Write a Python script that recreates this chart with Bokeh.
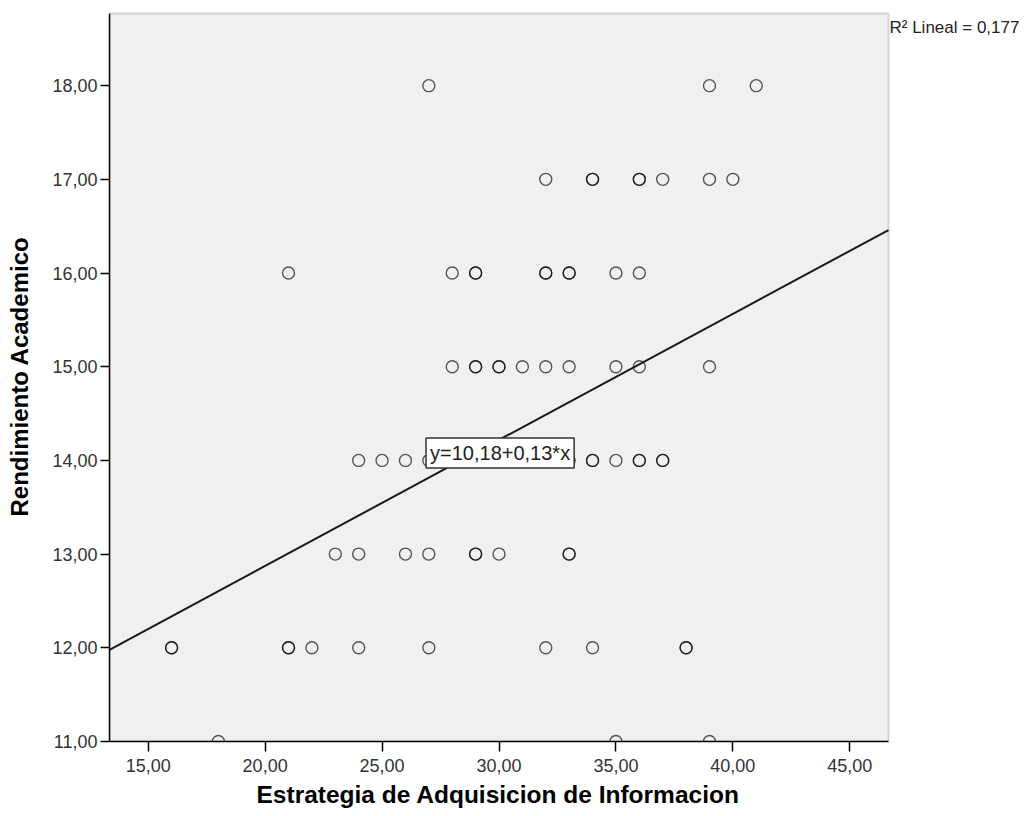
from bokeh.plotting import figure
from bokeh.models import (Range1d, FixedTicker, CustomJSTickFormatter, Label,
                          ColumnDataSource, BoxAnnotation, Title)
from bokeh.embed import file_html
from bokeh.resources import INLINE

# ---- data (duplicates = darker circles) ----
estrategia = [
    27, 39, 41,                                   # y = 18
    32, 34, 34, 36, 36, 37, 39, 40,               # y = 17
    21, 28, 29, 29, 32, 32, 33, 33, 35, 36,       # y = 16
    28, 29, 29, 30, 30, 31, 32, 33, 35, 36, 39,   # y = 15
    24, 25, 26, 27, 33, 34, 34, 35, 36, 36, 37, 37,  # y = 14
    23, 24, 26, 27, 29, 29, 30, 33, 33,           # y = 13
    16, 16, 21, 21, 22, 24, 27, 32, 34, 38, 38,   # y = 12
    18, 35, 39,                                   # y = 11
]
rendimiento = (
    [18] * 3 + [17] * 8 + [16] * 10 + [15] * 11 +
    [14] * 12 + [13] * 9 + [12] * 11 + [11] * 3
)

intercept = 10.184
slope = 0.1345
eq_text = "y=10,18+0,13*x"
r2_text = "R\u00b2 Lineal = 0,177"

x_ticks = [15, 20, 25, 30, 35, 40, 45]
y_ticks = [11, 12, 13, 14, 15, 16, 17, 18]
x_title = "Estrategia de Adquisicion de Informacion"
y_title = "Rendimiento Academico"

x_min, x_max = 13.345, 46.655
y_min, y_max = 11.0, 18.77

FONT = "Liberation Sans"

# frame extended to the right so the R² note (outside the plot box) stays visible
px_per_x = 779.0 / (x_max - x_min)
frame_x_end = x_min + 920.0 / px_per_x
frame_y_end = y_max + 2.0 / (728.0 / (y_max - y_min))

p = figure(width=1029, height=816, output_backend="svg", toolbar_location=None,
           x_range=Range1d(x_min, frame_x_end), y_range=Range1d(y_min, frame_y_end),
           min_border_left=109, min_border_right=0, min_border_top=11, min_border_bottom=75)

p.background_fill_color = "white"
p.border_fill_color = "white"
p.outline_line_color = None
p.grid.visible = False

p.add_layout(BoxAnnotation(left=x_min, right=x_max, bottom=y_min, top=y_max,
                           fill_color="#F0F0F0", fill_alpha=1.0,
                           line_color="#808080", line_width=2, level="underlay"))

fmt = CustomJSTickFormatter(code="return tick.toFixed(2).replace('.', ',');")
p.xaxis.ticker = FixedTicker(ticks=x_ticks)
p.yaxis.ticker = FixedTicker(ticks=y_ticks)
p.xaxis.formatter = fmt
p.yaxis.formatter = fmt
p.xaxis.bounds = (x_min, x_max)
p.yaxis.bounds = (y_min, y_max)

for ax in (p.xaxis[0], p.yaxis[0]):
    ax.axis_line_color = "black"
    ax.axis_line_width = 1.5
    ax.major_tick_line_color = "black"
    ax.major_tick_line_width = 1.5
    ax.major_tick_in = 0
    ax.minor_tick_line_color = None
    ax.major_label_text_font = FONT
    ax.major_label_text_font_size = "18px"
    ax.major_label_text_color = "#333333"

p.xaxis.major_tick_out = 10
p.yaxis.major_tick_out = 9
p.xaxis.major_label_standoff = 7
p.yaxis.major_label_standoff = 3

p.yaxis.axis_label = y_title
p.yaxis.axis_label_text_font = FONT
p.yaxis.axis_label_text_font_style = "bold"
p.yaxis.axis_label_text_color = "black"
p.yaxis.axis_label_text_font_size = "24px"
p.yaxis.axis_label_standoff = 16

# x title centred under the plot box (not the extended frame)
p.add_layout(Title(text=x_title, align="left", offset=147, standoff=9,
                   text_font=FONT, text_font_style="bold", text_font_size="24.5px",
                   text_color="black"), "below")

src = ColumnDataSource(dict(x=estrategia, y=rendimiento))
p.scatter("x", "y", source=src, marker="circle", size=12, fill_color=None,
          line_color="black", line_alpha=0.65, line_width=1.4)

# fit line across the plot box
p.line(x=[x_min, x_max], y=[intercept + slope * x_min, intercept + slope * x_max],
       line_color="#1a1a1a", line_width=2)

p.add_layout(Label(x=26.88, y=14.08, text=eq_text, text_align="left", text_baseline="middle",
                   text_font=FONT, text_font_size="20px", text_color="#222222",
                   background_fill_color="white", border_line_color="#333333",
                   border_line_width=1.5, padding=4))

p.add_layout(Label(x=x_max, y=18.62, x_offset=1, text=r2_text,
                   text_align="left", text_baseline="middle", text_font=FONT,
                   text_font_size="17px", text_color="#222222"))

open("out.html", "w").write(file_html(p, INLINE))
